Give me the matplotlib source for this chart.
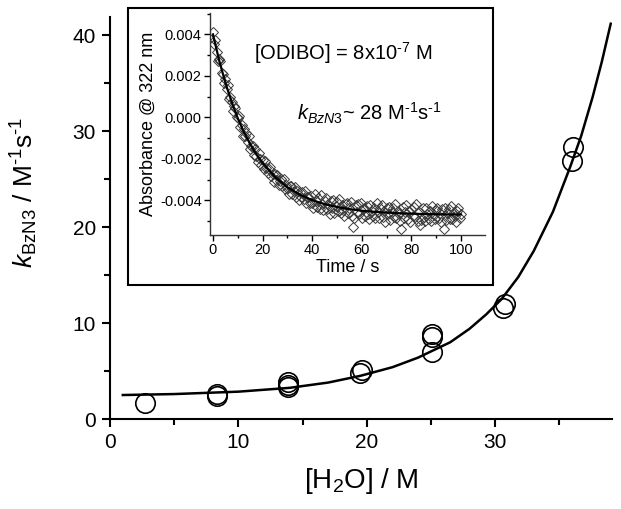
import numpy as np
import matplotlib
matplotlib.use('Agg')
import matplotlib.pyplot as plt
from matplotlib.patches import Rectangle
from matplotlib.ticker import MultipleLocator, FormatStrFormatter

plt.rcParams['font.family'] = ['Liberation Sans', 'DejaVu Sans']
plt.rcParams['mathtext.fontset'] = 'custom'
plt.rcParams['mathtext.rm'] = 'Liberation Sans'
plt.rcParams['mathtext.it'] = 'Liberation Sans:italic'
plt.rcParams['axes.unicode_minus'] = False

# main plot: measured rate constants vs water concentration
h2o = [2.7, 8.3, 8.3, 13.9, 13.9, 13.9, 19.5, 19.6, 25.1, 25.1, 25.1, 30.6, 30.8, 36.0, 36.1]
k_bzn3 = [1.7, 2.4, 2.6, 3.3, 3.5, 3.9, 4.8, 5.1, 7.0, 8.5, 8.9, 11.6, 12.0, 26.9, 28.3]

# fitted curve
fit_h2o = [1.0, 5.0, 10.0, 14.0, 17.0, 19.5, 22.0, 24.0, 26.5, 28.0, 29.3, 30.5, 31.8,
           33.0, 34.5, 35.85, 36.7, 37.6, 38.3, 39.0]
fit_k = [2.5, 2.6, 2.85, 3.25, 3.8, 4.5, 5.4, 6.4, 8.0, 9.4, 10.9, 12.5, 14.8,
         17.5, 21.6, 26.3, 29.5, 33.6, 37.2, 41.2]

# inset: absorbance trace (units of 1e-5), sampled every 0.5 s
t_step = 0.5
absorb_e5 = [
    412, 355, 372, 316, 270, 283, 272, 215, 211, 165,
    184, 138, 156, 90, 98, 72, 33, 56, 45, 0,
    -4, 5, -48, -38, -88, -57, -89, -76, -120, -92,
    -153, -136, -139, -179, -151, -186, -213, -174, -203, -228,
    -207, -249, -209, -245, -267, -247, -239, -282, -271, -310,
    -271, -300, -278, -327, -308, -296, -329, -295, -346, -326,
    -341, -368, -333, -329, -367, -353, -334, -383, -357, -399,
    -358, -382, -360, -394, -357, -412, -383, -382, -412, -380,
    -413, -437, -368, -403, -431, -391, -444, -374, -416, -445,
    -401, -387, -441, -417, -465, -403, -439, -398, -461, -428,
    -406, -450, -392, -461, -424, -445, -477, -419, -413, -462,
    -439, -407, -473, -530, -487, -423, -458, -416, -465, -411,
    -485, -442, -437, -477, -428, -467, -491, -420, -449, -477,
    -438, -485, -415, -456, -484, -439, -422, -479, -449, -502,
    -438, -465, -431, -493, -458, -437, -479, -416, -486, -451,
    -467, -500, -540, -431, -483, -457, -424, -491, -452, -505,
    -444, -473, -432, -480, -416, -501, -455, -520, -495, -439,
    -478, -501, -437, -464, -488, -452, -499, -429, -470, -491,
    -447, -435, -485, -459, -506, -441, -540, -438, -497, -462,
    -444, -488, -427, -491, -454, -474, -504, -450, -438, -485,
    -468,
]

# single-exponential fit of the trace (units of 1e-5)
fit_t = [0, 2.5, 5, 7.5, 10, 12.5, 15, 17.5, 20, 25, 30, 35, 40, 45, 50,
         55, 60, 65, 70, 75, 80, 85, 90, 95, 100]
fit_abs_e5 = [400, 274, 167, 75, -4, -72, -129, -178, -220, -287, -337, -372, -399,
              -418, -432, -442, -450, -455, -459, -462, -464, -466, -467, -468, -468]

time_s = np.arange(len(absorb_e5)) * t_step
absorb = np.array(absorb_e5) * 1e-5
fit_abs = np.array(fit_abs_e5) * 1e-5

fig = plt.figure(figsize=(6.21, 5.09), dpi=100)
ax = fig.add_axes([0.1771, 0.1768, 0.8084, 0.7898])

ax.plot(fit_h2o, fit_k, color='black', lw=1.8, zorder=2)
ax.plot(h2o, k_bzn3, 'o', mfc='none', mec='black', ms=14, mew=1.2, zorder=3)

ax.set_xlim(0, 39.1)
ax.set_ylim(0, 41.9)
ax.xaxis.set_major_locator(MultipleLocator(10))
ax.xaxis.set_minor_locator(MultipleLocator(5))
ax.yaxis.set_major_locator(MultipleLocator(10))
ax.yaxis.set_minor_locator(MultipleLocator(5))
for s in ['top', 'right']:
    ax.spines[s].set_visible(False)
for s in ['left', 'bottom']:
    ax.spines[s].set_linewidth(1.5)
ax.tick_params(which='major', direction='out', length=6, width=1.5, labelsize=15, pad=4)
ax.tick_params(which='minor', direction='out', length=4, width=1.5)

ax.set_xlabel(r'[H$_2$O] / M', fontsize=20)
ax.set_ylabel('$k_{\\mathrm{BzN3}}$ / M$^{\u20101}$s$^{\u20101}$', fontsize=19)
ax.xaxis.set_label_coords(0.5, -0.118)
ax.yaxis.set_label_coords(-0.14, 0.565)

# frame around the inset
fig.add_artist(Rectangle((0.2061, 0.4401), 0.5878, 0.5442, transform=fig.transFigure,
                         facecolor='white', edgecolor='black', lw=1.5, zorder=5))

ins = fig.add_axes([0.3382, 0.5383, 0.4428, 0.4361], zorder=6)
ins.patch.set_alpha(0)
ins.plot(time_s, absorb, 'D', mfc='none', mec='#3a3a3a', ms=5, mew=0.7)
ins.plot(fit_t, fit_abs, color='black', lw=1.6)
ins.set_xlim(-1.2, 109.7)
ins.set_ylim(-0.00567, 0.00503)
ins.xaxis.set_major_locator(MultipleLocator(20))
ins.xaxis.set_minor_locator(MultipleLocator(10))
ins.yaxis.set_major_locator(MultipleLocator(0.002))
ins.yaxis.set_minor_locator(MultipleLocator(0.001))
ins.yaxis.set_major_formatter(FormatStrFormatter('%.3f'))
for s in ['top', 'right']:
    ins.spines[s].set_visible(False)
for s in ['left', 'bottom']:
    ins.spines[s].set_linewidth(1.0)
    ins.spines[s].set_color('#333333')
ins.tick_params(which='major', direction='out', length=4, width=1.0, labelsize=10.5, pad=2)
ins.tick_params(which='minor', direction='out', length=2.5, width=1.0)
ins.set_xlabel('Time / s', fontsize=13, labelpad=1)
ins.set_ylabel('Absorbance @ 322 nm', fontsize=13, labelpad=2)

ins.text(0.484, 0.82, '[ODIBO] = 8x10$^{\u20107}$ M', transform=ins.transAxes,
         ha='center', va='center', fontsize=14.5)
ins.text(0.578, 0.55, '$k_{BzN3}$~ 28 M$^{\u20101}$s$^{\u20101}$', transform=ins.transAxes,
         ha='center', va='center', fontsize=14.5)

plt.savefig('out.png', dpi=100)
